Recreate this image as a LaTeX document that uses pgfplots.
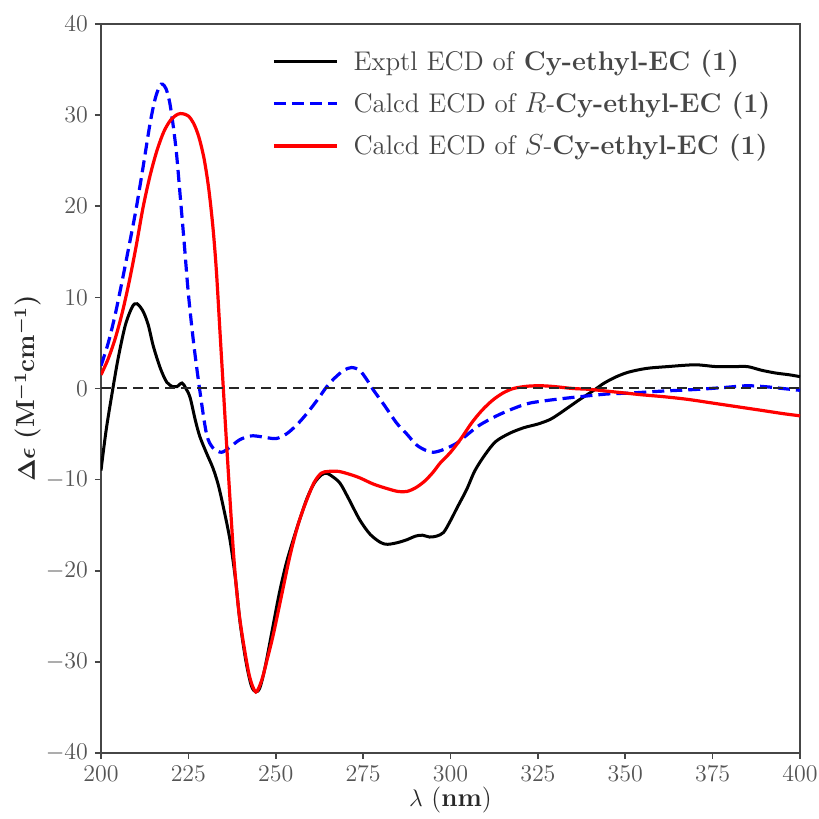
\documentclass[border=0pt]{standalone}
\usepackage{pgfplots}
\pgfplotsset{compat=1.18}
\usepackage{bm}
\definecolor{tickgray}{RGB}{85,85,85}
\definecolor{framegray}{RGB}{70,70,70}
\definecolor{leggray}{RGB}{70,70,70}
\definecolor{labgray}{RGB}{40,40,40}
\begin{document}
\begin{tikzpicture}
\begin{axis}[
  scale only axis,
  width=349.5pt, height=364.5pt,
  xmin=200, xmax=400, ymin=-40, ymax=40,
  xtick={200,225,...,400}, ytick={-40,-30,...,40},
  tick align=outside, xtick pos=left, ytick pos=left,
  major tick length=3pt,
  axis line style={framegray, line width=0.8pt},
  every tick/.style={framegray, line width=0.8pt},
  tick label style={font=\fontsize{12.4}{14}\selectfont, text=tickgray},
  xlabel={$\lambda$ (\textbf{nm})},
  ylabel={$\bm{\Delta\epsilon}$ \textbf{(M$^{\bm{-1}}$cm$^{\bm{-1}}$)}},
  label style={font=\fontsize{13}{15}\selectfont, text=labgray},
  xlabel style={at={(axis description cs:0.5,-0.0645)}, anchor=center},
  ylabel style={at={(axis description cs:-0.1044,0.5)}, anchor=center},
  legend cell align=left,
  legend style={draw=none, fill=none, at={(0.236,0.976)}, anchor=north west,
    font=\fontsize{13.5}{15}\selectfont, text=leggray, row sep=5.5pt},
  legend image code/.code={\draw[#1] (0pt,0pt) -- (31.5pt,0pt); \path (37pt,0pt);},
]
\addplot[black, line width=1.5pt, smooth] coordinates {
(200,-9.0) (201.5,-4.5) (203.4,0) (205,3.5) (207,7) (209,9.0) (210.3,9.3) (212,8.5) (213.5,7.0) (215,4.6) (217,2.2) (218.8,0.7) (220.5,0.2) (221.7,0.2) (223.2,0.6) (224.3,0.0) (225.5,-1.0) (227,-3.5) (228.3,-5.3) (230.2,-7.1) (232,-8.7) (233.5,-10.5) (235,-13) (236.9,-16.6) (238.5,-21) (239.8,-25.7) (241.5,-30) (243,-32.6) (244.3,-33.3) (245.5,-32.8) (247,-30.5) (249,-26.5) (251,-22.5) (253,-19.2) (255,-16.6) (257,-14.2) (259,-12.0) (261,-10.4) (263,-9.5) (264.5,-9.3) (266,-9.6) (268.4,-10.4) (271,-12.2) (274,-14.4) (277,-16.0) (280,-16.9) (282,-17.1) (285,-16.9) (287.5,-16.6) (290,-16.2) (292,-16.1) (294,-16.3) (296,-16.2) (298,-15.8) (300,-14.5) (302,-13.0) (304.6,-11.1) (307,-9.0) (310,-7.2) (313,-5.8) (317,-4.9) (321,-4.3) (325,-3.9) (328.5,-3.4) (331,-2.8) (334,-2.0) (337,-1.2) (341,-0.2) (344,0.6) (347.5,1.3) (351,1.8) (356,2.2) (362,2.4) (370,2.6) (376,2.4) (381,2.4) (385,2.4) (389,2.0) (393,1.7) (397,1.5) (400,1.3)
};
\addlegendentry{Exptl ECD of \textbf{Cy-ethyl-EC (1)}}
\addplot[blue, line width=1.6pt, dash pattern=on 6pt off 3pt, smooth] coordinates {
(200,2.5) (202,4.9) (204,8.0) (206,11.7) (208,15.6) (210,19.6) (212,24.2) (214,29.0) (215.5,31.8) (216.8,33.2) (217.6,33.4) (218.6,32.9) (219.6,31.5) (220.6,29) (221.6,25.8) (222.6,21.4) (223.8,16) (225,10.4) (226.5,5.0) (228.3,-0.3) (230.2,-5.0) (232,-6.5) (234.5,-7.0) (237,-6.4) (239.8,-5.6) (243,-5.2) (246,-5.3) (250,-5.5) (253,-5.0) (256,-4.0) (259,-2.7) (262,-1.2) (264.6,0.2) (267,1.2) (269.5,2.0) (271.7,2.3) (274,2.0) (276,1.0) (278,-0.2) (281,-1.8) (284.6,-3.8) (287.5,-5.0) (290.3,-6.2) (293,-6.8) (295.1,-7.0) (298,-6.7) (301.8,-6.0) (305,-5.0) (308.4,-4.0) (313.2,-3.0) (318,-2.2) (322.7,-1.6) (330,-1.2) (337,-0.9) (345,-0.6) (351.4,-0.5) (360,-0.3) (370.4,-0.1) (378,0.1) (384.7,0.3) (390,0.2) (395,0.0) (400,-0.2)
};
\addlegendentry{Calcd ECD of $R$-\textbf{Cy-ethyl-EC (1)}}
\addplot[red, line width=1.6pt, smooth] coordinates {
(200,1.5) (202,3.2) (204,5.4) (206,8.2) (208,11.6) (210,15.5) (212,19.8) (214,23.3) (216,26.1) (218,28.2) (220,29.5) (222,30.1) (223.4,30.15) (225,29.9) (226.5,29.1) (228,27.6) (229.5,25.2) (230.8,22.0) (232,17.8) (233,13) (234,6.5) (235,0) (236,-6.5) (237.9,-18.0) (239.3,-24) (240.7,-27.8) (242.5,-31.6) (244.3,-33.3) (246,-32) (247.5,-29.8) (249.3,-27.0) (251.5,-23.0) (254.1,-18.3) (256.5,-14.8) (258.9,-12.2) (261,-10.3) (263,-9.3) (265,-9.1) (268,-9.1) (271,-9.4) (274,-9.8) (278,-10.5) (282,-11.0) (285,-11.3) (287.5,-11.3) (290,-10.9) (292.5,-10.2) (295,-9.2) (297,-8.2) (300,-7.0) (303,-5.5) (306,-3.8) (309,-2.4) (312,-1.3) (315,-0.5) (318,0) (322,0.25) (326,0.3) (330,0.2) (335,0.0) (340,-0.1) (345,-0.3) (350,-0.5) (355,-0.7) (361,-0.9) (368,-1.2) (375,-1.6) (382,-2.0) (389,-2.4) (395,-2.75) (400,-3.0)
};
\addlegendentry{Calcd ECD of $S$-\textbf{Cy-ethyl-EC (1)}}
\addplot[black!85, line width=1pt, dash pattern=on 5pt off 3pt, forget plot] coordinates {(200,0) (400,0)};
\end{axis}
\pgfresetboundingbox
\path ([xshift=-50.5pt,yshift=-33pt]current axis.south west) rectangle ([xshift=9pt,yshift=12pt]current axis.north east);
\end{tikzpicture}
\end{document}
